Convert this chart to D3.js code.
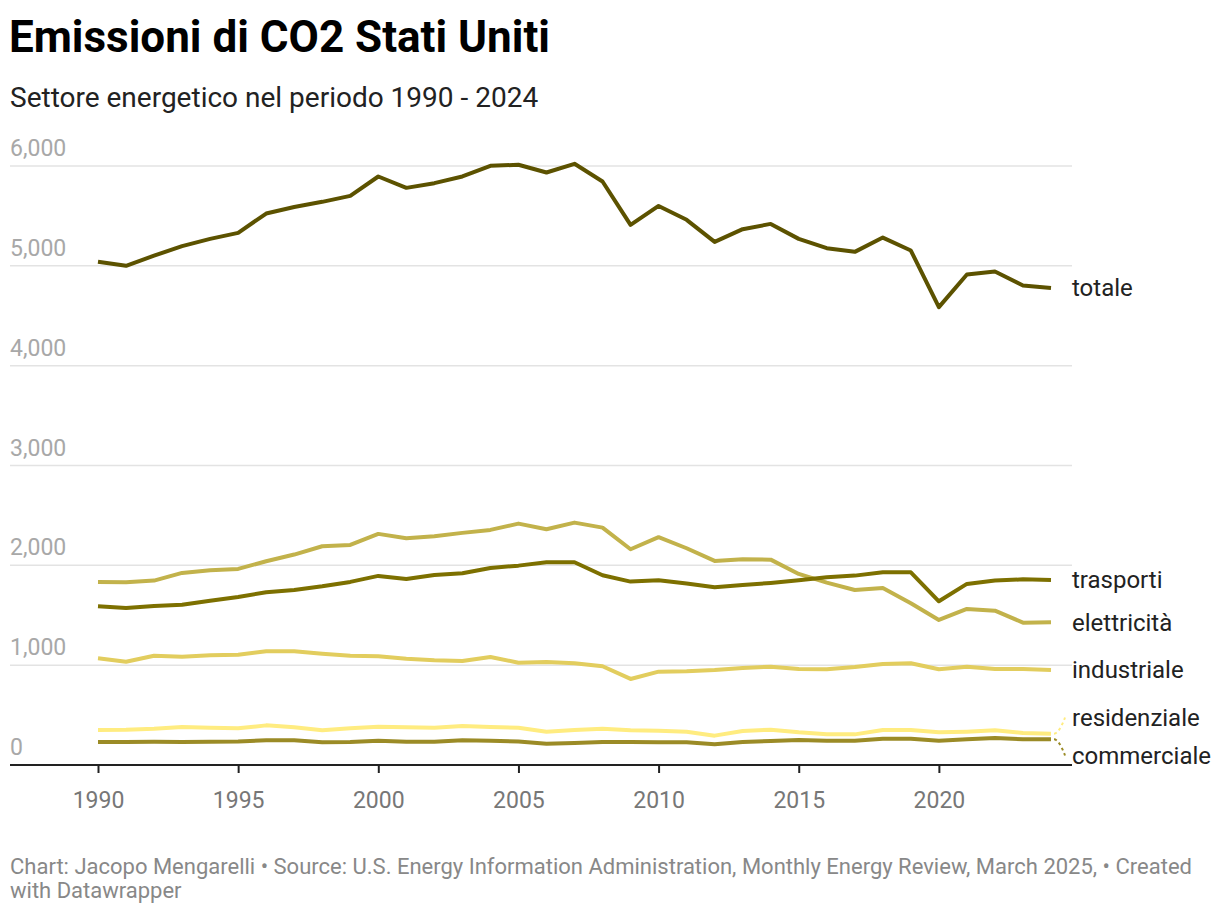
<!DOCTYPE html>
<html>
<head>
<meta charset="utf-8">
<script src="https://cdn.jsdelivr.net/npm/d3@7"></script>
<style>
  body { margin: 0; background: #fff; font-family: Roboto, "Noto Sans", sans-serif; }
  svg { display: block; }
</style>
</head>
<body>
<svg id="chart" width="1220" height="918"></svg>
<script>
const years = d3.range(1990, 2025);
const yTicks = [0, 1000, 2000, 3000, 4000, 5000, 6000];
const xTicks = [1990, 1995, 2000, 2005, 2010, 2015, 2020];

const totale = [5040, 5000, 5102, 5197, 5270, 5330, 5524, 5590, 5641, 5701,
  5895, 5781, 5828, 5895, 6002, 6012, 5935, 6022, 5845, 5410,
  5600, 5461, 5240, 5367, 5420, 5270, 5177, 5140, 5283, 5153,
  4586, 4913, 4943, 4803, 4777];
const trasporti = [1590, 1573, 1593, 1606, 1646, 1683, 1730, 1753, 1790, 1834,
  1894, 1864, 1904, 1920, 1974, 1997, 2031, 2031, 1901, 1837,
  1850, 1817, 1780, 1804, 1824, 1850, 1880, 1897, 1930, 1930,
  1640, 1814, 1847, 1860, 1854];
const elettricita = [1834, 1830, 1847, 1924, 1951, 1964, 2041, 2108, 2191, 2204,
  2315, 2271, 2291, 2325, 2355, 2418, 2361, 2428, 2378, 2161,
  2282, 2171, 2044, 2061, 2057, 1914, 1827, 1753, 1774, 1620,
  1453, 1563, 1546, 1426, 1430];
const industriale = [1069, 1035, 1095, 1085, 1099, 1105, 1139, 1139, 1115, 1095,
  1089, 1065, 1049, 1042, 1082, 1025, 1032, 1019, 989, 862,
  935, 939, 952, 972, 985, 962, 959, 982, 1012, 1019,
  959, 985, 962, 962, 952];
const residenziale = [351, 354, 364, 381, 374, 367, 397, 377, 347, 367,
  384, 377, 374, 391, 381, 374, 334, 351, 364, 347,
  344, 334, 294, 341, 354, 327, 307, 307, 351, 351,
  327, 334, 347, 321, 314];
const commerciale = [230, 230, 233, 230, 233, 236, 247, 247, 227, 230,
  244, 233, 233, 247, 244, 236, 214, 220, 230, 230,
  227, 227, 207, 230, 240, 250, 244, 244, 264, 264,
  244, 257, 270, 257, 257];

const seriesNames = ["commerciale", "residenziale", "industriale", "elettricità", "trasporti", "totale"];
const seriesValues = [commerciale, residenziale, industriale, elettricita, trasporti, totale];
const seriesColors = ["#9b8b26", "#ffec80", "#e2cd5e", "#c2b24b", "#7d7000", "#5c5200"];

const svg = d3.select("#chart");
const left = 10, right = 1072;
const x = d3.scaleLinear().domain([1990, 2024]).range([98, 1051]);
const y = d3.scaleLinear().domain([0, 6000]).range([765, 166]);

// Title
svg.append("text").attr("x", 9).attr("y", 52)
  .attr("font-size", 44).attr("font-weight", 700).attr("fill", "#000")
  .text("Emissioni di CO2 Stati Uniti");
svg.append("text").attr("x", 10).attr("y", 107)
  .attr("font-size", 28).attr("fill", "#222")
  .text("Settore energetico nel periodo 1990 - 2024");

// gridlines
const grid = svg.append("g");
yTicks.filter(d => d > 0).forEach(t => {
  grid.append("line").attr("x1", left).attr("x2", right)
    .attr("y1", y(t)).attr("y2", y(t))
    .attr("stroke", "#e3e3e3").attr("stroke-width", 1.5);
});
yTicks.forEach(t => {
  grid.append("text").attr("x", left).attr("y", y(t) - 10)
    .attr("font-size", 23).attr("fill", "#a8a8a8")
    .text(d3.format(",")(t));
});

// x axis
const xAxis = svg.append("g").attr("transform", `translate(0,${y(0)})`);
xAxis.append("line").attr("x1", left).attr("x2", right)
  .attr("stroke", "#222").attr("stroke-width", 2);
const axisG = xAxis.append("g").call(d3.axisBottom(x).tickValues(xTicks)
  .tickFormat(d3.format("d")).tickSize(8).tickPadding(19));
axisG.select(".domain").remove();
axisG.selectAll(".tick line").attr("stroke", "#222").attr("stroke-width", 2);
axisG.selectAll(".tick text").attr("font-size", 23).attr("fill", "#777")
  .attr("font-family", "Roboto, sans-serif");

// lines
const line = d3.line().x((d, i) => x(years[i])).y(d => y(d));
seriesValues.forEach((vals, k) => {
  svg.append("path").datum(vals).attr("d", line)
    .attr("fill", "none").attr("stroke", seriesColors[k])
    .attr("stroke-width", 4).attr("stroke-linejoin", "round");
});

// labels with simple collision avoidance
const labels = seriesNames.map((n, k) => ({
  name: n, color: seriesColors[k],
  yLine: y(seriesValues[k][seriesValues[k].length - 1])
}));
labels.forEach(l => l.yLabel = l.yLine);
const minGap = 38;
labels.sort((a, b) => a.yLine - b.yLine);
for (let iter = 0; iter < 50; iter++) {
  for (let i = 1; i < labels.length; i++) {
    const a = labels[i - 1], b = labels[i];
    const gap = b.yLabel - a.yLabel;
    if (gap < minGap) {
      const shift = (minGap - gap) / 2;
      a.yLabel -= shift; b.yLabel += shift;
    }
  }
}
const xEnd = x(2024);
labels.forEach(l => {
  if (Math.abs(l.yLabel - l.yLine) > 3) {
    svg.append("path")
      .attr("d", `M${xEnd + 3},${l.yLine} Q${xEnd + 8},${l.yLine} ${xEnd + 14},${l.yLabel}`)
      .attr("fill", "none").attr("stroke", l.color).attr("stroke-width", 2)
      .attr("stroke-dasharray", "3,3");
  }
  svg.append("text").attr("x", right).attr("y", l.yLabel)
    .attr("dy", "0.35em").attr("font-size", 24).attr("fill", "#222")
    .text(l.name);
});

// footer
svg.append("text").attr("x", 10).attr("y", 874).attr("font-size", 22).attr("fill", "#888")
  .text("Chart: Jacopo Mengarelli • Source: U.S. Energy Information Administration, Monthly Energy Review, March 2025, • Created");
svg.append("text").attr("x", 10).attr("y", 898).attr("font-size", 22).attr("fill", "#888")
  .text("with Datawrapper");
</script>
</body>
</html>
